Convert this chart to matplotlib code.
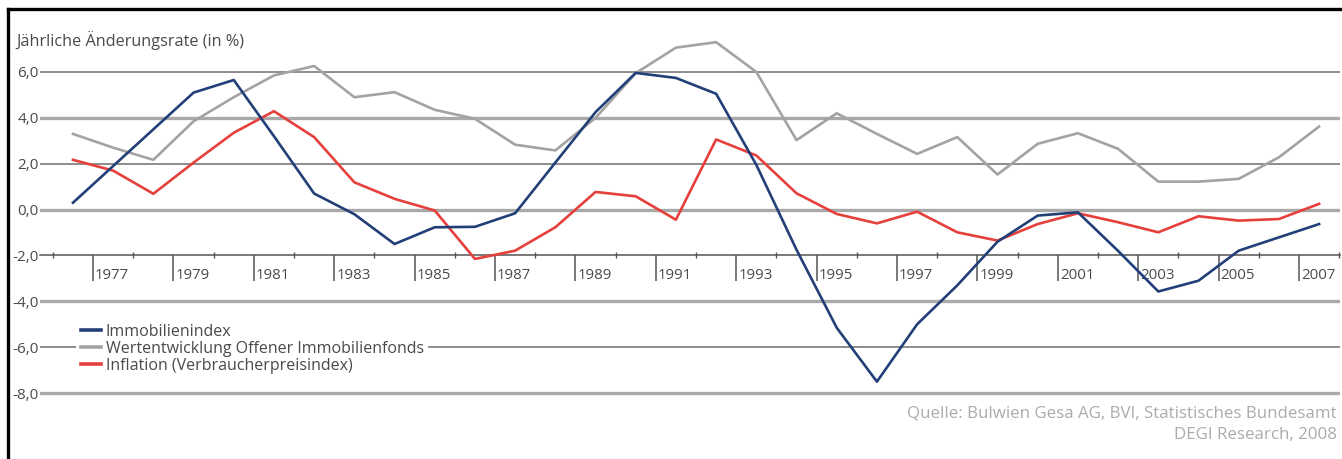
import matplotlib
matplotlib.use("Agg")
import matplotlib.pyplot as plt
from matplotlib.lines import Line2D

plt.rcParams["font.family"] = ["Open Sans", "DejaVu Sans"]

years = list(range(1976, 2008))
immobilienindex = [0.3, 1.9, 3.5, 5.1, 5.65, 3.2, 0.7, -0.2, -1.5, -0.77,
                   -0.75, -0.16, 2.05, 4.25, 5.96, 5.74, 5.05, 1.95, -1.75, -5.15,
                   -7.5, -5.0, -3.3, -1.4, -0.26, -0.12, -1.8, -3.57, -3.1, -1.79,
                   -1.21, -0.63]
fonds = [3.3, 2.7, 2.17, 3.85, 4.9, 5.85, 6.26, 4.9, 5.12, 4.35,
         3.96, 2.83, 2.58, 4.0, 5.95, 7.06, 7.3, 6.0, 3.03, 4.2,
         3.3, 2.43, 3.16, 1.53, 2.87, 3.33, 2.65, 1.22, 1.22, 1.34,
         2.28, 3.62]
inflation = [2.17, 1.7, 0.69, 2.05, 3.35, 4.29, 3.16, 1.19, 0.47, -0.04,
             -2.15, -1.79, -0.77, 0.77, 0.58, -0.44, 3.06, 2.36, 0.71, -0.19,
             -0.6, -0.09, -0.99, -1.35, -0.63, -0.16, -0.55, -0.99, -0.29, -0.48,
             -0.41, 0.25]

labels = ["Immobilienindex",
          "Wertentwicklung Offener Immobilienfonds",
          "Inflation (Verbraucherpreisindex)"]
y_ticks = [6, 4, 2, 0, -2, -4, -6, -8]
label_years = list(range(1977, 2008, 2))

C_BLUE = "#223f78"
C_GREY = "#a3a3a3"
C_RED = "#e5403c"
C_TEXT = "#4a4a4a"

W, H = 1342, 459
fig = plt.figure(figsize=(W / 100, H / 100), dpi=100)
ax = fig.add_axes([40 / W, (H - 400) / H, 1300 / W, 370 / H])
ax.set_xlim(1975.18, 2007.52)
ax.set_ylim(-8.30, 7.83)

# alternating thin/thick horizontal rules
for v in y_ticks:
    if v == -2:
        continue
    if v in (4, 0, -4, -8):
        ax.axhline(v, color="#a9a9a9", lw=2.4, zorder=1)
    else:
        ax.axhline(v, color="#6e6e6e", lw=1.1, zorder=1)

ax.plot(years, fonds, color=C_GREY, lw=1.9, zorder=3, label=labels[1])
ax.plot(years, inflation, color=C_RED, lw=1.9, zorder=4, label=labels[2])
ax.plot(years, immobilienindex, color=C_BLUE, lw=1.9, zorder=5, label=labels[0])

for s in ("top", "right", "left"):
    ax.spines[s].set_visible(False)
ax.spines["bottom"].set_position(("data", -2))
ax.spines["bottom"].set_color("#555555")
ax.spines["bottom"].set_linewidth(1.1)
ax.spines["bottom"].set_zorder(2)

ax.set_yticks(y_ticks)
ax.set_yticklabels([f"{v:.1f}".replace(".", ",") for v in y_ticks])
ax.tick_params(axis="y", length=0, pad=1, labelsize=11, labelcolor=C_TEXT)

ax.set_xticks([y - 0.5 for y in label_years])
ax.set_xticks([y - 0.5 for y in range(1976, 2009, 2)], minor=True)
ax.set_xticklabels([])
ax.tick_params(axis="x", which="major", direction="out", length=19,
               width=1.1, color="#555555")
ax.tick_params(axis="x", which="minor", direction="inout", length=5,
               width=1.0, color="#555555")
for y in label_years:
    ax.annotate(str(y), (y - 0.5, -2), xytext=(2, -20),
                textcoords="offset pixels", ha="left", va="center",
                fontsize=10.8, color=C_TEXT)

ax.text(16 / W, 1 - 41 / H, "Jährliche Änderungsrate (in %)",
        transform=fig.transFigure, ha="left", va="center",
        fontsize=11.7, color=C_TEXT)

h, l = ax.get_legend_handles_labels()
order = [2, 0, 1]
leg = ax.legend([h[i] for i in order], [l[i] for i in order],
                loc="center left", bbox_to_anchor=(76 / W, 1 - 349 / H),
                bbox_transform=fig.transFigure, frameon=True,
                facecolor="white", edgecolor="none", framealpha=1,
                fontsize=11.5, labelspacing=0.06, handlelength=1.25,
                handletextpad=0.3, borderpad=0.3, borderaxespad=0,
                fancybox=False)
for t in leg.get_texts():
    t.set_color(C_TEXT)
for ln in leg.get_lines():
    ln.set_linewidth(2.6)
leg.set_zorder(6)

fig.text(1337 / W, 1 - 413 / H,
         "Quelle: Bulwien Gesa AG, BVI, Statistisches Bundesamt",
         ha="right", va="center", fontsize=12.2, color="#ababab")
fig.text(1337 / W, 1 - 435 / H, "DEGI Research, 2008",
         ha="right", va="center", fontsize=12.2, color="#ababab")

# outer frame (left and top edges)
fig.add_artist(Line2D([8 / W, 8 / W], [0, 1 - 9 / H], color="black",
                      lw=2.4, transform=fig.transFigure))
fig.add_artist(Line2D([8 / W, 1], [1 - 9 / H, 1 - 9 / H], color="black",
                      lw=2.4, transform=fig.transFigure))

fig.savefig("out.png", dpi=100)
